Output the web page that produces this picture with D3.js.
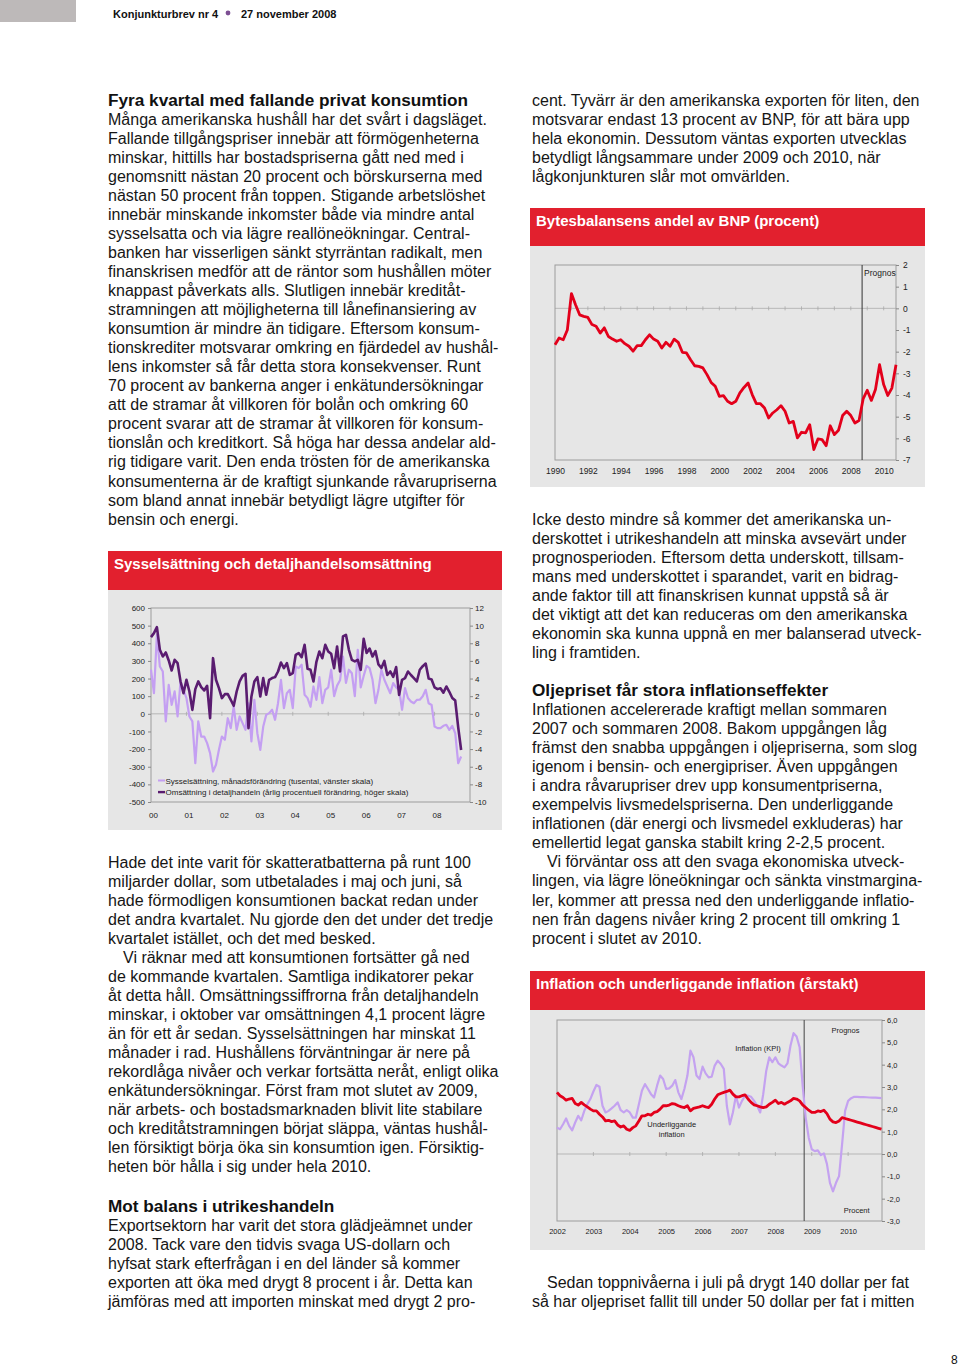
<!DOCTYPE html>
<html><head><meta charset="utf-8">
<script src="https://cdn.jsdelivr.net/npm/d3@7"></script>
<style>
body{margin:0;background:#fff;}
svg{display:block;font-family:"Liberation Sans",Arial,Helvetica,sans-serif;}
</style></head><body>
<svg id="page" width="960" height="1367"></svg>
<script>
// ---------- DATA ----------
// Chart 1: monthly, Jan 2000 – Oct 2008
const empChange = [ // Sysselsättning, månadsförändring (tusental)
  250,117,448,268,240,-43,164,51,127,-15,183,136,
  89,-15,-43,-280,-43,-129,-129,-166,-223,-327,-289,-204,
  -129,-147,-25,-81,42,-91,-15,-53,-91,60,-157,79,
  -110,-204,-72,-6,4,23,-34,60,193,32,117,136,
  32,268,259,278,108,89,40,155,79,208,60,136,
  150,250,100,160,190,325,175,250,230,100,363,150,
  215,272,259,193,60,136,250,193,155,117,174,150,
  136,23,146,90,70,60,79,80,100,136,60,50,
  -72,-81,-81,-68,-62,-91,-68,-110,-280,-242];
const retailChange = [ // Omsättning i detaljhandeln (årlig %)
  8.7,9.15,9.83,7.26,6.5,6.96,6.05,4.91,6.12,5.75,3.67,2.34,
  3.86,2.53,0.45,2.8,3.67,3.02,2.65,3.18,-0.49,6.31,3.86,2.91,
  1.78,2.23,2.23,1.59,0.91,2.53,3.67,4.31,4.54,-1.63,1.97,3.67,
  4.16,1.97,4.05,2.16,3.86,4.05,4.16,4.8,5.82,5.18,5.75,4.42,
  4.61,6.69,6.88,6.43,7.83,5.1,5.0,3.67,5.9,7.07,6.3,7.83,
  7.07,6.8,5.18,7.64,4.8,8.77,8.96,7.26,6.12,5.94,6.12,4.99,
  8.5,6.9,7.4,6.5,7.1,5.6,5.2,6.0,4.4,4.8,4.2,5.3,
  2.15,3.86,4.05,4.8,4.4,4.05,3.67,5.0,5.4,5.7,4.0,3.9,
  3.0,2.8,2.9,2.4,3.1,2.5,1.8,1.5,-1.5,-4.1];
const chart1Years = [2000,2001,2002,2003,2004,2005,2006,2007,2008];
const chart1YearLabels = ["00","01","02","03","04","05","06","07","08"];
const chart1LeftTicks = [-500,-400,-300,-200,-100,0,100,200,300,400,500,600];
const chart1RightTicks = [-10,-8,-6,-4,-2,0,2,4,6,8,10,12];
const chart1Legend = ["Sysselsättning, månadsförändring (tusental, vänster skala)",
                      "Omsättning i detaljhandeln (årlig procentuell förändring, höger skala)"];

// Chart 2: quarterly 1990Q1 – 2010Q4
const currentAccount = [
  -1.68,-1.37,-1.45,-1.0,0.68,0.17,-0.3,-0.37,-0.42,-0.75,
  -0.83,-1.14,-0.9,-1.3,-1.42,-1.52,-1.45,-1.63,-1.75,-1.98,
  -1.72,-1.72,-1.45,-1.22,-1.42,-1.52,-1.83,-1.57,-1.75,-1.42,
  -1.57,-2.03,-2.06,-2.37,-2.65,-2.68,-2.75,-3.06,-3.42,-3.6,
  -4.06,-4.03,-4.29,-4.4,-4.29,-3.9,-3.65,-3.45,-3.98,-4.4,
  -4.4,-4.6,-5.06,-4.83,-4.68,-4.49,-4.75,-5.29,-5.22,-5.98,
  -5.72,-5.75,-5.37,-6.52,-6.03,-6.06,-6.34,-5.42,-5.83,-5.63,
  -4.95,-4.75,-4.95,-5.29,-5.18,-4.18,-3.78,-4.25,-3.75,-2.6,
  -3.52,-4.02,-3.68,-2.6];
const chart2YearLabels = ["1990","1992","1994","1996","1998","2000","2002","2004","2006","2008","2010"];
const chart2Ticks = [-7,-6,-5,-4,-3,-2,-1,0,1,2];
const chart2PrognosIndex = 74.75;

// Chart 3: monthly Jan 2002 – Dec 2010
const kpi = [
  1.18,1.11,1.33,1.59,1.26,1.06,1.41,1.71,1.51,1.93,2.23,2.46,
  2.8,3.09,3.01,2.16,1.86,1.93,2.04,2.16,2.31,1.96,1.86,1.96,
  1.86,1.63,1.63,2.23,2.83,3.13,2.91,2.68,2.53,3.06,3.51,3.36,
  2.91,2.94,3.06,3.31,2.76,2.46,2.91,3.51,4.63,4.33,3.51,3.36,
  3.91,3.61,3.43,3.46,3.96,4.18,4.03,3.81,2.16,1.33,1.86,2.61,
  2.08,2.38,2.61,2.61,2.56,2.38,2.16,1.86,2.68,3.73,4.33,4.11,
  4.33,4.06,3.96,3.88,4.06,4.86,5.41,5.26,4.78,3.06,1.63,0.73,
  0.21,0.13,0.16,-0.05,0.03,-0.44,-1.29,-1.67,-1.29,-0.99,0.43,1.93,
  2.38,2.5,2.56,2.56,2.55,2.55,2.54,2.53,2.52,2.52,2.51,2.5];
const coreInflation = [
  2.76,2.61,2.53,2.41,2.46,2.49,2.26,2.19,2.31,2.2,2.11,2.01,
  1.93,1.93,1.78,1.66,1.48,1.51,1.45,1.48,1.3,1.21,1.26,1.11,
  1.06,1.18,1.26,1.48,1.71,1.71,1.78,1.74,1.86,1.9,2.01,2.16,
  2.16,2.19,2.26,2.23,2.16,2.11,2.08,2.16,1.93,2.04,2.08,2.11,
  2.16,2.11,2.08,2.23,2.46,2.65,2.71,2.76,2.8,2.86,2.68,2.56,
  2.56,2.61,2.65,2.46,2.31,2.2,2.16,2.11,2.08,2.11,2.23,2.31,
  2.41,2.26,2.31,2.23,2.31,2.38,2.49,2.46,2.38,2.2,2.08,1.96,
  1.86,1.86,1.93,1.9,1.96,1.81,1.56,1.44,1.41,1.48,1.63,1.59,
  1.55,1.51,1.47,1.43,1.39,1.35,1.31,1.27,1.23,1.19,1.15,1.11];
const chart3YearLabels = ["2002","2003","2004","2005","2006","2007","2008","2009","2010"];
const chart3Ticks = [-3,-2,-1,0,1,2,3,4,5,6];
const chart3PrognosIndex = 81.5;

// ---------- TEXT ----------
const leftBlock1 = [
 "Många amerikanska hushåll har det svårt i dagsläget.",
 "Fallande tillgångspriser innebär att förmögenheterna",
 "minskar, hittills har bostadspriserna gått ned med i",
 "genomsnitt nästan 20 procent och börskurserna med",
 "nästan 50 procent från toppen. Stigande arbetslöshet",
 "innebär minskande inkomster både via mindre antal",
 "sysselsatta och via lägre reallöneökningar. Central-",
 "banken har visserligen sänkt styrräntan radikalt, men",
 "finanskrisen medför att de räntor som hushållen möter",
 "knappast påverkats alls. Slutligen innebär kreditåt-",
 "stramningen att möjligheterna till lånefinansiering av",
 "konsumtion är mindre än tidigare. Eftersom konsum-",
 "tionskrediter motsvarar omkring en fjärdedel av hushål-",
 "lens inkomster så får detta stora konsekvenser. Runt",
 "70 procent av bankerna anger i enkätundersökningar",
 "att de stramar åt villkoren för bolån och omkring 60",
 "procent svarar att de stramar åt villkoren för konsum-",
 "tionslån och kreditkort. Så höga har dessa andelar ald-",
 "rig tidigare varit. Den enda trösten för de amerikanska",
 "konsumenterna är de kraftigt sjunkande råvarupriserna",
 "som bland annat innebär betydligt lägre utgifter för",
 "bensin och energi."];
const leftBlock2 = [
 "Hade det inte varit för skatteratbatterna på runt 100",
 "miljarder dollar, som utbetalades i maj och juni, så",
 "hade förmodligen konsumtionen backat redan under",
 "det andra kvartalet. Nu gjorde den det under det tredje",
 "kvartalet istället, och det med besked.",
 "Vi räknar med att konsumtionen fortsätter gå ned",
 "de kommande kvartalen. Samtliga indikatorer pekar",
 "åt detta håll. Omsättningssiffrorna från detaljhandeln",
 "minskar, i oktober var omsättningen 4,1 procent lägre",
 "än för ett år sedan. Sysselsättningen har minskat 11",
 "månader i rad. Hushållens förväntningar är nere på",
 "rekordlåga nivåer och verkar fortsätta neråt, enligt olika",
 "enkätundersökningar. Först fram mot slutet av 2009,",
 "när arbets- och bostadsmarknaden blivit lite stabilare",
 "och kreditåtstramningen börjat släppa, väntas hushål-",
 "len försiktigt börja öka sin konsumtion igen. Försiktig-",
 "heten bör hålla i sig under hela 2010."];
const leftBlock3 = [
 "Exportsektorn har varit det stora glädjeämnet under",
 "2008. Tack vare den tidvis svaga US-dollarn och",
 "hyfsat stark efterfrågan i en del länder så kommer",
 "exporten att öka med drygt 8 procent i år. Detta kan",
 "jämföras med att importen minskat med drygt 2 pro-"];
const rightBlock1 = [
 "cent. Tyvärr är den amerikanska exporten för liten, den",
 "motsvarar endast 13 procent av BNP, för att bära upp",
 "hela ekonomin. Dessutom väntas exporten utvecklas",
 "betydligt långsammare under 2009 och 2010, när",
 "lågkonjunkturen slår mot omvärlden."];
const rightBlock2 = [
 "Icke desto mindre så kommer det amerikanska un-",
 "derskottet i utrikeshandeln att minska avsevärt under",
 "prognosperioden. Eftersom detta underskott, tillsam-",
 "mans med underskottet i sparandet, varit en bidrag-",
 "ande faktor till att finanskrisen kunnat uppstå så är",
 "det viktigt att det kan reduceras om den amerikanska",
 "ekonomin ska kunna uppnå en mer balanserad utveck-",
 "ling i framtiden."];
const rightBlock3 = [
 "Inflationen accelererade kraftigt mellan sommaren",
 "2007 och sommaren 2008. Bakom uppgången låg",
 "främst den snabba uppgången i oljepriserna, som slog",
 "igenom i bensin- och energipriser. Även uppgången",
 "i andra råvarupriser drev upp konsumentpriserna,",
 "exempelvis livsmedelspriserna. Den underliggande",
 "inflationen (där energi och livsmedel exkluderas) har",
 "emellertid legat ganska stabilt kring 2-2,5 procent.",
 "Vi förväntar oss att den svaga ekonomiska utveck-",
 "lingen, via lägre löneökningar och sänkta vinstmargina-",
 "ler, kommer att pressa ned den underliggande inflatio-",
 "nen från dagens nivåer kring 2 procent till omkring 1",
 "procent i slutet av 2010."];
const rightBlock4 = [
 "Sedan toppnivåerna i juli på drygt 140 dollar per fat",
 "så har oljepriset fallit till under 50 dollar per fat i mitten"];

// ---------- DRAW ----------
const svg = d3.select("#page");
const RED = "#e2202e", PANEL = "#e6e6e6", FRAME = "#9c9c9c";
const LH = 19.05, FS = 16;
const hyph = d => String(d).replace("−","-");
svg.append("rect").attr("width",960).attr("height",1367).attr("fill","#fff");

// page header
svg.append("rect").attr("x",0).attr("y",0).attr("width",76).attr("height",22).attr("fill","#bdb9b9");
svg.append("text").attr("x",113).attr("y",18.3).attr("font-size",11).attr("font-weight","bold").attr("fill","#111").text("Konjunkturbrev nr 4");
svg.append("circle").attr("cx",228).attr("cy",13).attr("r",2.4).attr("fill","#7d4f93");
svg.append("text").attr("x",241).attr("y",18.3).attr("font-size",11).attr("font-weight","bold").attr("fill","#111").text("27 november 2008");
svg.append("text").attr("x",951).attr("y",1364).attr("font-size",12).attr("fill","#111").text("8");

function block(lines, x, y0, indentIdx){
  const g = svg.append("g").attr("font-size",FS).attr("fill","#161616");
  lines.forEach((t,i)=>{
    g.append("text").attr("x", x + (indentIdx && indentIdx.includes(i) ? 15 : 0))
      .attr("y", y0 + i*LH).text(t);
  });
}
function heading(t, x, y){
  svg.append("text").attr("x",x).attr("y",y).attr("font-size",17.2).attr("font-weight","bold").attr("fill","#111").text(t);
}
heading("Fyra kvartal med fallande privat konsumtion",108,105.5);
block(leftBlock1,108,105.5+LH);
block(leftBlock2,108,867.5,[5]);
heading("Mot balans i utrikeshandeln",108,1211.5);
block(leftBlock3,108,1230.5);
block(rightBlock1,532,105.5);
block(rightBlock2,532,524.5);
heading("Oljepriset får stora inflationseffekter",532,695.5);
block(rightBlock3,532,715,[8]);
block(rightBlock4,532,1287.5,[0]);

function chartHeader(x,y,w,h,t){
  svg.append("rect").attr("x",x).attr("y",y).attr("width",w).attr("height",h).attr("fill",RED);
  svg.append("text").attr("x",x+6).attr("y",y+18).attr("font-size",15).attr("font-weight","bold").attr("fill","#fff").text(t);
}
function styleAxis(g, fs){
  g.select(".domain").remove();
  g.attr("font-family",null).attr("font-size",fs);
  g.selectAll(".tick line").attr("stroke","#888");
  g.selectAll(".tick text").attr("fill","#222");
}

// ===== Chart 1 =====
chartHeader(108,551,394,39,"Sysselsättning och detaljhandelsomsättning");
svg.append("rect").attr("x",108).attr("y",590).attr("width",394).attr("height",240).attr("fill",PANEL);
{
  const x = d3.scaleLinear().domain([2000,2009]).range([151,470]);
  const yL = d3.scaleLinear().domain([-500,600]).range([802,608]);
  const yR = d3.scaleLinear().domain([-10,12]).range([802,608]);
  const g = svg.append("g");
  g.append("line").attr("x1",151).attr("x2",470).attr("y1",yL(0)).attr("y2",yL(0)).attr("stroke","#aaa").attr("stroke-width",0.8);
  g.selectAll(".zt").data(chart1Years.slice(1)).join("line")
    .attr("x1",d=>x(d)).attr("x2",d=>x(d)).attr("y1",yL(0)-2).attr("y2",yL(0)+2).attr("stroke","#aaa").attr("stroke-width",0.8);
  g.append("rect").attr("x",151).attr("y",608).attr("width",319).attr("height",194).attr("fill","none").attr("stroke",FRAME);
  styleAxis(g.append("g").attr("transform","translate(151,0)")
    .call(d3.axisLeft(yL).tickValues(chart1LeftTicks).tickSize(3).tickPadding(3).tickFormat(hyph)),8);
  styleAxis(g.append("g").attr("transform","translate(470,0)")
    .call(d3.axisRight(yR).tickValues(chart1RightTicks).tickSize(3).tickPadding(2).tickFormat(hyph)),8);
  styleAxis(g.append("g").attr("transform","translate(2,802)")
    .call(d3.axisBottom(x).tickValues(chart1Years).tickSize(0).tickPadding(10)
      .tickFormat((d,i)=>chart1YearLabels[i])),8);
  const lineL = d3.line().x((d,i)=>x(2000+i/12)).y(d=>yL(d));
  const lineR = d3.line().x((d,i)=>x(2000+i/12)).y(d=>yR(d));
  g.append("path").attr("d",lineL(empChange)).attr("fill","none").attr("stroke","#c49ff2").attr("stroke-width",2.2).attr("stroke-linejoin","round");
  g.append("path").attr("d",lineR(retailChange)).attr("fill","none").attr("stroke","#5a1c70").attr("stroke-width",2.6).attr("stroke-linejoin","round");
  const legCol = ["#c49ff2","#5a1c70"];
  chart1Legend.forEach((t,i)=>{
    g.append("line").attr("x1",158).attr("x2",165).attr("y1",780.5+i*11.6).attr("y2",780.5+i*11.6).attr("stroke",legCol[i]).attr("stroke-width",i?2.4:2);
    g.append("text").attr("x",165.5).attr("y",783.5+i*11.6).attr("font-size",8).attr("fill","#222").text(t);
  });
}

// ===== Chart 2 =====
chartHeader(530,208,395,38,"Bytesbalansens andel av BNP (procent)");
svg.append("rect").attr("x",530).attr("y",246).attr("width",395).attr("height",241).attr("fill",PANEL);
{
  const x = d3.scaleLinear().domain([0,currentAccount.length-1]).range([555,896]);
  const y = d3.scaleLinear().domain([-7,2]).range([460,265]);
  const g = svg.append("g");
  g.append("line").attr("x1",555).attr("x2",896).attr("y1",y(0)).attr("y2",y(0)).attr("stroke","#aaa").attr("stroke-width",0.8);
  g.selectAll(".zt").data(d3.range(4,currentAccount.length,4)).join("line")
    .attr("x1",d=>x(d)).attr("x2",d=>x(d)).attr("y1",y(0)-2).attr("y2",y(0)+2).attr("stroke","#aaa").attr("stroke-width",0.8);
  g.append("rect").attr("x",555).attr("y",265).attr("width",341).attr("height",195).attr("fill","none").attr("stroke",FRAME);
  styleAxis(g.append("g").attr("transform","translate(896,0)")
    .call(d3.axisRight(y).tickValues(chart2Ticks).tickSize(3).tickPadding(4).tickFormat(hyph)),8.5);
  styleAxis(g.append("g").attr("transform","translate(0,460)")
    .call(d3.axisBottom(x).tickValues(chart2YearLabels.map((d,i)=>i*8)).tickSize(0).tickPadding(8)
      .tickFormat((d,i)=>chart2YearLabels[i])),8.5);
  g.append("line").attr("x1",x(chart2PrognosIndex)).attr("x2",x(chart2PrognosIndex)).attr("y1",265).attr("y2",460).attr("stroke","#333").attr("stroke-width",1);
  g.append("text").attr("x",x(chart2PrognosIndex)+2).attr("y",276).attr("font-size",8.5).attr("fill","#222").text("Prognos");
  const line = d3.line().x((d,i)=>x(i)).y(d=>y(d));
  g.append("path").attr("d",line(currentAccount)).attr("fill","none").attr("stroke","#e3001b").attr("stroke-width",2.8).attr("stroke-linejoin","round");
}

// ===== Chart 3 =====
chartHeader(530,971,395,39,"Inflation och underliggande inflation (årstakt)");
svg.append("rect").attr("x",530).attr("y",1010).attr("width",395).attr("height",240).attr("fill",PANEL);
{
  const x = d3.scaleLinear().domain([0,kpi.length-1]).range([557,881.5]);
  const y = d3.scaleLinear().domain([-3,6]).range([1221,1020]);
  const g = svg.append("g");
  g.append("line").attr("x1",557).attr("x2",882).attr("y1",y(0)).attr("y2",y(0)).attr("stroke","#aaa").attr("stroke-width",0.8);
  g.selectAll(".zt").data(d3.range(12,kpi.length,12)).join("line")
    .attr("x1",d=>x(d)).attr("x2",d=>x(d)).attr("y1",y(0)-2).attr("y2",y(0)+2).attr("stroke","#aaa").attr("stroke-width",0.8);
  g.append("rect").attr("x",557).attr("y",1020).attr("width",325).attr("height",201).attr("fill","none").attr("stroke",FRAME);
  const fmt = d=>d3.format(".1f")(d).replace(".",",").replace("−","-");
  styleAxis(g.append("g").attr("transform","translate(882,0)")
    .call(d3.axisRight(y).tickValues(chart3Ticks).tickSize(3).tickPadding(2).tickFormat(fmt)),7.5);
  styleAxis(g.append("g").attr("transform","translate(0,1221)")
    .call(d3.axisBottom(x).tickValues(chart3YearLabels.map((d,i)=>i*12)).tickSize(0).tickPadding(8)
      .tickFormat((d,i)=>chart3YearLabels[i])),7.5);
  g.append("line").attr("x1",x(chart3PrognosIndex)).attr("x2",x(chart3PrognosIndex)).attr("y1",1020).attr("y2",1221).attr("stroke","#444").attr("stroke-width",1);
  const line = d3.line().x((d,i)=>x(i)).y(d=>y(d));
  g.append("path").attr("d",line(kpi)).attr("fill","none").attr("stroke","#c4a2f0").attr("stroke-width",2.2).attr("stroke-linejoin","round");
  g.append("path").attr("d",line(coreInflation)).attr("fill","none").attr("stroke","#e3001b").attr("stroke-width",2.8).attr("stroke-linejoin","round");
  const ann = [["Prognos",845.5,1033],["Inflation (KPI)",758,1051],["Underliggande",671.7,1127],["inflation",671.7,1136.5],["Procent",856.7,1213]];
  ann.forEach(a=>g.append("text").attr("x",a[1]).attr("y",a[2]).attr("text-anchor","middle").attr("font-size",7.5).attr("fill","#222").text(a[0]));
}
</script>
</body></html>
